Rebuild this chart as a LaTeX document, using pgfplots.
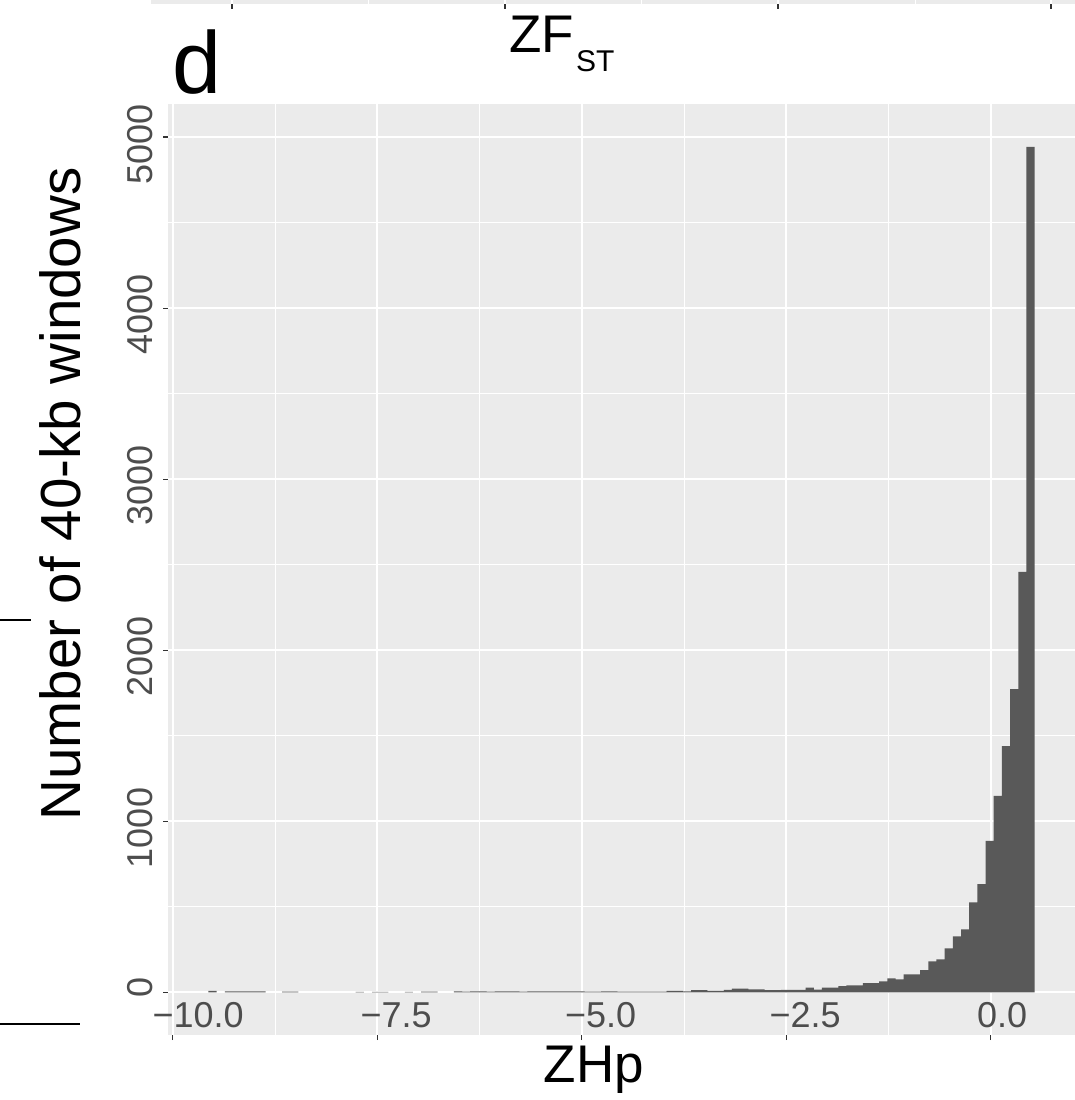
\documentclass[border=0pt]{standalone}
\usepackage{pgfplots}
\pgfplotsset{compat=1.18}
\usepackage{fontspec}
\setmainfont{Liberation Sans}
\definecolor{panelbg}{HTML}{EBEBEB}
\definecolor{barfill}{HTML}{595959}
\definecolor{ticklab}{HTML}{4D4D4D}
\definecolor{tickcol}{HTML}{333333}
\begin{document}
\begin{tikzpicture}[x=1pt,y=1pt]
\path[use as bounding box] (0,0) rectangle (1074,1100);
% remnant of the panel above
\fill[panelbg] (151,1096) rectangle (1080,1100);
\foreach \xx in {368,641,915} {\draw[white, line width=1pt] (\xx,1096) -- (\xx,1100);}
\foreach \xx in {232,505,778,1051} {\draw[white, line width=2pt] (\xx,1096) -- (\xx,1100); \draw[tickcol, line width=1.1pt] (\xx,1091) -- (\xx,1096);}
% remnants at the left
\draw[black, line width=1.2pt] (0,480) -- (31,480);
\draw[black, line width=1.2pt] (0,76) -- (80,76);
\begin{axis}[
  at={(168pt,65pt)}, anchor=south west,
  scale only axis, width=912pt, height=931pt,
  xmin=-10.06, xmax=1.09, ymin=-249.6, ymax=5193,
  axis background/.style={fill=panelbg},
  axis x line*=bottom, axis y line*=left,
  axis line style={draw=none},
  xtick={-10,-7.5,-5,-2.5,0},
  xticklabels={\hspace*{-20.6pt}−10.0,\hspace*{-17pt}−7.5,\hspace*{-17pt}−5.0,\hspace*{-17pt}−2.5,\hspace*{-14pt}0.0},
  minor xtick={-8.75,-6.25,-3.75,-1.25,1.25},
  ytick={0,1000,2000,3000,4000,5000},
  yticklabels={\hspace*{-5pt}0,\hspace*{-47pt}1000,\hspace*{-47pt}2000,\hspace*{-47pt}3000,\hspace*{-47pt}4000,\hspace*{-48pt}5000},
  minor ytick={500,1500,2500,3500,4500},
  grid=both,
  major grid style={white, line width=2pt},
  minor grid style={white, line width=1pt},
  tick align=outside,
  major tick length=5pt, minor tick length=0pt,
  tick style={tickcol, line width=1.1pt},
  xticklabel style={font=\fontsize{36}{36}\selectfont, text=ticklab, anchor=base west, inner sep=0pt, yshift=12pt},
  yticklabel style={font=\fontsize{36}{36}\selectfont, text=ticklab, xshift=-11pt, rotate=90, anchor=base west, inner sep=0pt},
]
\addplot[ybar, bar width=0.1, bar shift=0pt, fill=barfill, draw=none] coordinates {
(-9.515,8) (-9.315,5) (-9.215,5) (-9.115,5) (-9.015,5) (-8.915,5)
(-8.615,4) (-8.515,4)
(-7.715,3) (-7.515,3) (-7.415,3) (-7.115,3) (-6.915,4) (-6.815,4)
(-6.515,5) (-6.415,4) (-6.315,6) (-6.215,5) (-6.115,4) (-6.015,5) (-5.915,6)
(-5.815,5) (-5.715,4) (-5.615,5) (-5.515,6) (-5.415,5) (-5.315,5) (-5.215,5)
(-5.115,5) (-5.015,5) (-4.915,4) (-4.815,4) (-4.715,5) (-4.615,5)
(-4.515,4) (-4.415,4) (-4.315,4) (-4.215,4) (-4.115,4) (-4.015,4)
(-3.915,9) (-3.815,9) (-3.715,6) (-3.615,12) (-3.515,12) (-3.415,9) (-3.315,9)
(-3.215,14) (-3.115,22) (-3.015,22) (-2.915,17) (-2.815,17) (-2.715,12) (-2.615,12)
(-2.515,14) (-2.415,14) (-2.315,14) (-2.215,27) (-2.115,16) (-2.015,27) (-1.915,27)
(-1.815,36) (-1.715,41) (-1.615,41) (-1.515,53) (-1.415,53) (-1.315,64) (-1.215,82)
(-1.115,76) (-1.015,105) (-0.915,105) (-0.815,129) (-0.715,181) (-0.615,193)
(-0.515,257) (-0.415,327) (-0.315,368) (-0.215,526) (-0.115,632) (-0.015,885)
(0.085,1148) (0.185,1439) (0.285,1772) (0.385,2458) (0.485,4942)
};
\end{axis}
\node[font=\fontsize{53}{53}\selectfont, anchor=base] at (594,17) {ZHp};
\node[font=\fontsize{56.5}{56.5}\selectfont, rotate=90, anchor=base] at (80,606) {Number of 40-kb windows};
\node[font=\fontsize{88}{88}\selectfont, anchor=base west, inner sep=0pt] at (172,1006) {d};
\node[font=\fontsize{53}{53}\selectfont, anchor=base west, inner sep=0pt] at (509,1047) {ZF};
\node[font=\fontsize{30}{30}\selectfont, anchor=base west, inner sep=0pt] at (576,1028) {ST};
\end{tikzpicture}
\end{document}
